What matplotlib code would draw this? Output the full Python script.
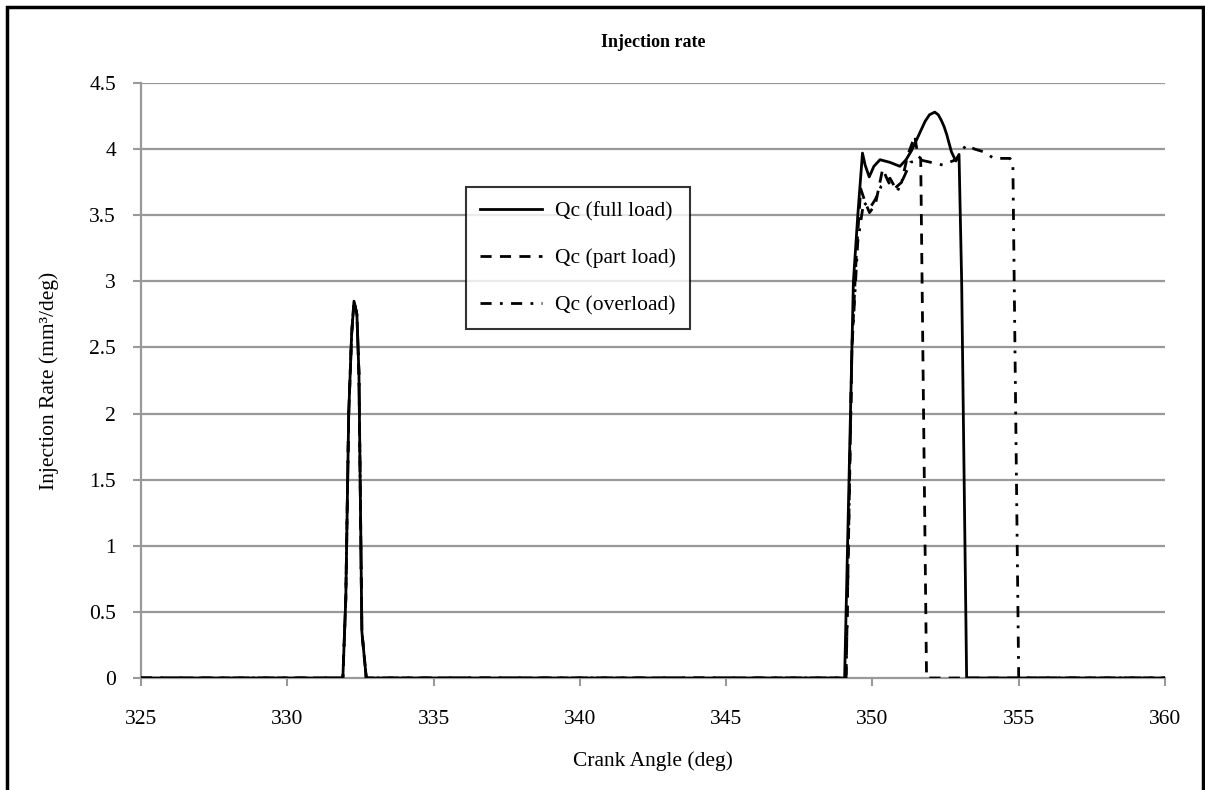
import matplotlib
matplotlib.use("Agg")
import matplotlib.pyplot as plt
from matplotlib.patches import Rectangle

plt.rcParams['font.family'] = ['Liberation Serif', 'DejaVu Serif']

# Pilot injection shared by all three operating points
pilot_x = [325.0, 331.9, 332.0, 332.1, 332.2, 332.28, 332.38, 332.45, 332.55, 332.7]
pilot_y = [0.0, 0.0, 0.6, 2.0, 2.6, 2.85, 2.75, 2.3, 0.35, 0.0]

# Main injection, full load
full_x = [349.05, 349.2, 349.35, 349.5, 349.66, 349.75, 349.89, 350.05, 350.26,
          350.6, 350.94, 351.15, 351.34, 351.55, 351.8, 351.95, 352.13, 352.25,
          352.35, 352.45, 352.54, 352.7, 352.85, 352.96, 353.05, 353.22, 360.0]
full_y = [0.0, 1.5, 3.0, 3.5, 3.97, 3.88, 3.79, 3.87, 3.92,
          3.9, 3.87, 3.92, 3.99, 4.09, 4.21, 4.26, 4.28, 4.26,
          4.22, 4.17, 4.11, 3.98, 3.91, 3.96, 3.0, 0.0, 0.0]

# Main injection, part load
part_x = [349.1, 349.3, 349.45, 349.6, 349.75, 349.9, 350.1, 350.35, 350.55,
          350.75, 351.0, 351.2, 351.45, 351.55, 351.65, 351.85, 360.0]
part_y = [0.0, 2.5, 3.2, 3.7, 3.6, 3.52, 3.58, 3.85, 3.75,
          3.7, 3.75, 3.95, 4.1, 3.95, 3.93, 0.0, 0.0]

# Main injection, overload
over_x = [349.1, 349.3, 349.5, 349.7, 349.9, 350.1, 350.3, 350.6, 350.85,
          351.1, 351.3, 351.6, 352.0, 352.4, 352.85, 353.2, 353.5, 353.8,
          354.15, 354.7, 354.8, 355.0, 360.0]
over_y = [0.0, 2.5, 3.3, 3.6, 3.55, 3.62, 3.72, 3.78, 3.68,
          3.8, 3.9, 3.92, 3.9, 3.88, 3.92, 4.03, 4.0, 3.98,
          3.93, 3.93, 3.9, 0.0, 0.0]

x_ticks = [325, 330, 335, 340, 345, 350, 355, 360]
y_ticks = [0, 0.5, 1, 1.5, 2, 2.5, 3, 3.5, 4, 4.5]
y_tick_labels = ['0', '0.5', '1', '1.5', '2', '2.5', '3', '3.5', '4', '4.5']

fig = plt.figure(figsize=(12.05, 7.9), dpi=100)
ax = fig.add_axes([0.117, 0.1418, 0.8498, 0.7531])

grid_col = '#999999'
for yv in y_ticks[1:]:
    ax.axhline(yv, color=grid_col, lw=1.6, zorder=1)

lw = 2.0
ax.plot(pilot_x + full_x, pilot_y + full_y, color='black', lw=lw,
        ls='-', label='Qc (full load)', zorder=4)
ax.plot(pilot_x + part_x, pilot_y + part_y, color='black', lw=lw,
        ls=(0, (4, 3)), label='Qc (part load)', zorder=3)
ax.plot(pilot_x + over_x, pilot_y + over_y, color='black', lw=lw,
        ls=(0, (4, 3, 1, 3)), label='Qc (overload)', zorder=3)

ax.set_xlim(325, 360)
ax.set_ylim(0, 4.5)
ax.set_xticks(x_ticks)
ax.set_yticks(y_ticks)
ax.set_yticklabels(y_tick_labels)
ax.tick_params(axis='both', direction='out', length=6, width=1.5,
               color=grid_col, labelsize=15.5)
ax.tick_params(axis='y', pad=12)
ax.tick_params(axis='x', pad=17)

for side in ['top', 'right']:
    ax.spines[side].set_visible(False)
ax.spines['left'].set_color(grid_col)
ax.spines['left'].set_linewidth(1.6)
ax.spines['bottom'].set_color(grid_col)
ax.spines['bottom'].set_linewidth(1.6)

ax.set_title('Injection rate', fontsize=13, fontweight='bold', pad=26)
ax.set_xlabel('Crank Angle (deg)', fontsize=15.5, labelpad=16)
ax.set_ylabel('Injection Rate (mm³/deg)', fontsize=15.5, labelpad=22)

leg = ax.legend(loc='upper left', bbox_to_anchor=(0.3174, 0.825),
                fontsize=15.5, frameon=True, fancybox=False,
                edgecolor='black', handlelength=2.9, labelspacing=1.25,
                borderpad=0.65, handletextpad=0.6, borderaxespad=0)
leg.get_frame().set_linewidth(1.5)

# Outer frame around the chart
fig.patches.append(Rectangle((7 / 1205, -0.05), 1196 / 1205, 1 - 7 / 790 + 0.05,
                             transform=fig.transFigure, fill=False,
                             edgecolor='black', lw=2.5, zorder=10))

fig.savefig('out.png', dpi=100)
